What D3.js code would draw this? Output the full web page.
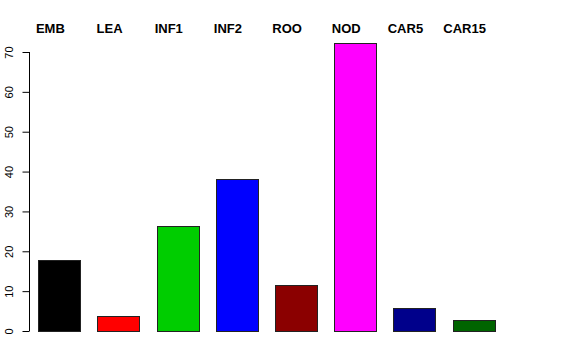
<!DOCTYPE html>
<html>
<head>
<meta charset="utf-8">
<script src="https://cdn.jsdelivr.net/npm/d3@7"></script>
<style>
  body { margin: 0; background: #fff; }
  svg { display: block; }
</style>
</head>
<body>
<svg id="chart" width="576" height="360"></svg>
<script>
// Tissue categories and their values
const categories = ["EMB", "LEA", "INF1", "INF2", "ROO", "NOD", "CAR5", "CAR15"];
const values = [17.8, 3.7, 26.4, 38.2, 11.6, 72.3, 5.7, 2.8];
const barColors = ["#000000", "#FF0000", "#00CD00", "#0000FF", "#8B0000", "#FF00FF", "#00008B", "#006400"];
const yTicks = [0, 10, 20, 30, 40, 50, 60, 70];

const svg = d3.select("#chart");

// Scales
const x = d3.scaleBand()
            .domain(categories)
            .range([38.3, 494.7])
            .paddingInner(0.287)
            .paddingOuter(0);

const y = d3.scaleLinear()
            .domain([0, 70])
            .range([331, 52]);

// Y axis, R style: rotated labels
const yAxis = svg.append("g")
   .attr("transform", "translate(29,0)")
   .call(d3.axisLeft(y).tickValues(yTicks).tickSize(7).tickPadding(0).tickFormat(d3.format("d")));

yAxis.select(".domain")
     .attr("d", `M0.5,${y(0)}V${y(70)}`)
     .attr("stroke", "#000");
yAxis.selectAll(".tick line").attr("stroke", "#000").attr("transform", "translate(0.5,0)");
yAxis.selectAll(".tick text")
     .attr("x", 0)
     .attr("dy", 0)
     .attr("text-anchor", "middle")
     .attr("transform", "translate(-16,0) rotate(-90)")
     .style("font-family", "Liberation Sans, Arial, sans-serif")
     .style("font-size", "11px")
     .attr("fill", "#000");

// Bars
svg.append("g")
   .selectAll("rect")
   .data(categories)
   .enter().append("rect")
     .attr("x", d => Math.round(x(d)) + 0.5)
     .attr("y", (d, i) => Math.round(y(values[i])) + 0.5)
     .attr("width", Math.round(x.bandwidth()))
     .attr("height", (d, i) => Math.round(y(0)) - Math.round(y(values[i])))
     .attr("fill", (d, i) => barColors[i])
     .attr("stroke", "#222")
     .attr("stroke-width", 1);

// Labels along the top
svg.append("g")
   .selectAll("text")
   .data(categories)
   .enter().append("text")
     .attr("x", d => x(d) + x.bandwidth() / 2 - 9)
     .attr("y", 33)
     .attr("text-anchor", "middle")
     .style("font-family", "Liberation Sans, Arial, sans-serif")
     .style("font-weight", "bold")
     .style("font-size", "13px")
     .text(d => d);
</script>
</body>
</html>
